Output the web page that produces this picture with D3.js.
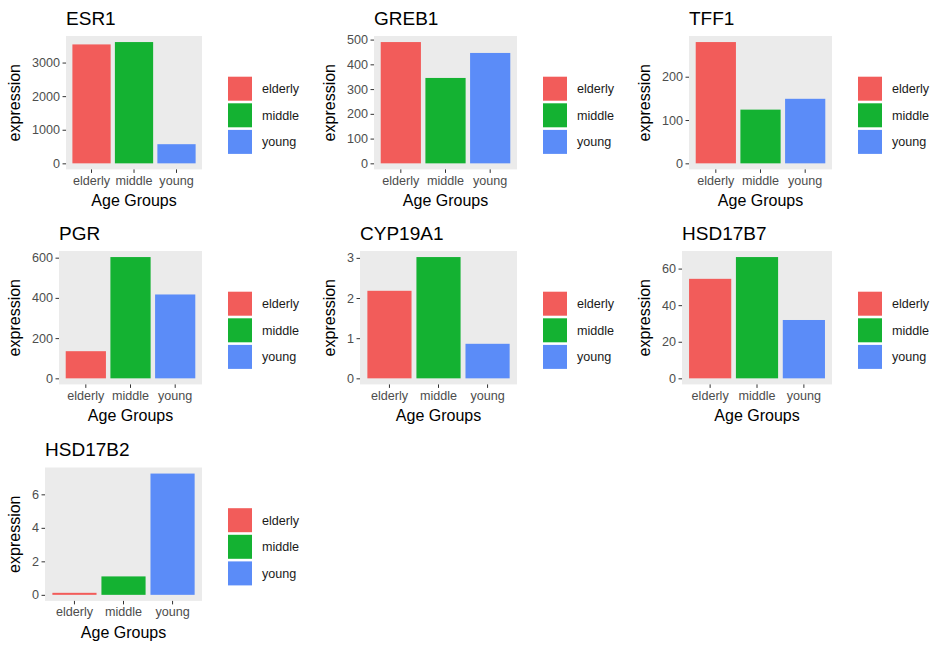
<!DOCTYPE html>
<html>
<head>
<meta charset="utf-8">
<script src="https://cdn.jsdelivr.net/npm/d3@7"></script>
<style>
  html, body { margin: 0; padding: 0; background: #ffffff; }
  svg { display: block; font-family: "Liberation Sans", Arial, Helvetica, sans-serif; }
</style>
</head>
<body>
<svg id="chart" width="931" height="646"></svg>
<script>
// Age groups and fill colours
const groups = ["elderly", "middle", "young"];
const groupColors = ["#F25C5A", "#14B232", "#5B8CF8"];

// Genes, in panel order (row by row)
const genes = ["ESR1", "GREB1", "TFF1", "PGR", "CYP19A1", "HSD17B7", "HSD17B2"];

// Mean expression per gene for elderly / middle / young
const esr1    = [3540, 3610, 570];
const greb1   = [490, 345, 446];
const tff1    = [280, 124, 149];
const pgr     = [135, 603, 417];
const cyp19a1 = [2.18, 3.02, 0.86];
const hsd17b7 = [54.4, 66.3, 31.9];
const hsd17b2 = [0.12, 1.1, 7.24];
const geneValues = [esr1, greb1, tff1, pgr, cyp19a1, hsd17b7, hsd17b2];

// Y-axis breaks per gene
const esr1Ticks    = [0, 1000, 2000, 3000];
const greb1Ticks   = [0, 100, 200, 300, 400, 500];
const tff1Ticks    = [0, 100, 200];
const pgrTicks     = [0, 200, 400, 600];
const cyp19a1Ticks = [0, 1, 2, 3];
const hsd17b7Ticks = [0, 20, 40, 60];
const hsd17b2Ticks = [0, 2, 4, 6];
const geneTicks = [esr1Ticks, greb1Ticks, tff1Ticks, pgrTicks, cyp19a1Ticks, hsd17b7Ticks, hsd17b2Ticks];

const xTitle = "Age Groups";
const yTitle = "expression";

const svg = d3.select("#chart");

// grid of sub-plots
const cellW = 315;
const rowTops = [0, 215, 431.5];
const tickFont = 12.6;

function textWidth(str, size) {
  const t = svg.append("text").attr("font-size", size).text(str);
  const w = t.node().getComputedTextLength();
  t.remove();
  return w;
}

genes.forEach((gene, i) => {
  const col = i % 3, row = Math.floor(i / 3);
  const cx = col * cellW, cy = rowTops[row];
  const values = geneValues[i];
  const ticks = geneTicks[i];
  const vmax = d3.max(values);

  const maxLabelW = d3.max(ticks, t => textWidth(String(t), tickFont));
  const left = cx + 38 + maxLabelW;
  const right = cx + 202;
  const top = cy + 36;
  const bottom = cy + 169.4;

  const x = d3.scaleBand().domain(groups).range([left, right])
    .paddingInner(0.1).paddingOuter(0.15);
  const y = d3.scaleLinear().domain([-0.05 * vmax, 1.05 * vmax]).range([bottom, top]);
  const color = d3.scaleOrdinal().domain(groups).range(groupColors);

  const g = svg.append("g");

  // panel background
  g.append("rect")
    .attr("x", left).attr("y", top)
    .attr("width", right - left).attr("height", bottom - top)
    .attr("fill", "#EBEBEB");

  // bars
  g.selectAll("rect.bar").data(groups).join("rect")
    .attr("class", "bar")
    .attr("x", d => x(d))
    .attr("width", x.bandwidth())
    .attr("y", (d, j) => y(values[j]))
    .attr("height", (d, j) => y(0) - y(values[j]))
    .attr("fill", d => color(d));

  // y axis
  const yAxis = g.append("g")
    .attr("transform", `translate(${left},0)`)
    .call(d3.axisLeft(y).tickValues(ticks).tickSize(3.5).tickPadding(2.5).tickFormat(d3.format("d")));
  yAxis.select(".domain").remove();
  yAxis.selectAll(".tick line").attr("stroke", "#333333");
  yAxis.selectAll(".tick text")
    .attr("font-size", tickFont).attr("fill", "#4D4D4D")
    .attr("font-family", "Liberation Sans, Arial, sans-serif");

  // x axis
  const xAxis = g.append("g")
    .attr("transform", `translate(0,${bottom})`)
    .call(d3.axisBottom(x).tickSize(3.5).tickPadding(3));
  xAxis.select(".domain").remove();
  xAxis.selectAll(".tick line").attr("stroke", "#333333");
  xAxis.selectAll(".tick text")
    .attr("font-size", tickFont).attr("fill", "#4D4D4D")
    .attr("font-family", "Liberation Sans, Arial, sans-serif");

  // titles
  g.append("text")
    .attr("x", left).attr("y", cy + 24.5)
    .attr("font-size", 19).attr("fill", "#000")
    .text(gene);

  g.append("text")
    .attr("x", (left + right) / 2).attr("y", cy + 206)
    .attr("text-anchor", "middle")
    .attr("font-size", 16).attr("fill", "#000")
    .text(xTitle);

  g.append("text")
    .attr("transform", `translate(${cx + 20},${(top + bottom) / 2}) rotate(-90)`)
    .attr("text-anchor", "middle")
    .attr("font-size", 16).attr("fill", "#000")
    .text(yTitle);

  // legend
  const lg = g.append("g").attr("transform", `translate(${cx + 228},${cy + 76.7})`);
  groups.forEach((grp, j) => {
    lg.append("rect")
      .attr("x", 0).attr("y", j * 26.6)
      .attr("width", 24).attr("height", 24)
      .attr("fill", color(grp));
    lg.append("text")
      .attr("x", 34).attr("y", j * 26.6 + 12)
      .attr("dy", "0.35em")
      .attr("font-size", tickFont).attr("fill", "#1a1a1a")
      .text(grp);
  });
});
</script>
</body>
</html>
